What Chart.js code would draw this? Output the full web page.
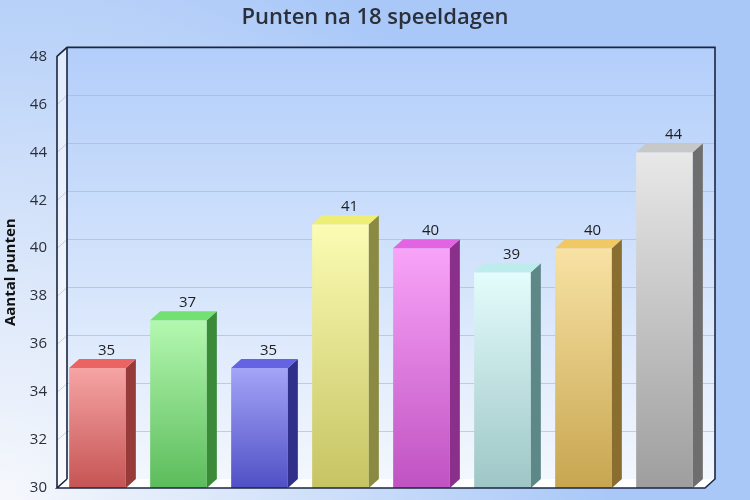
<!DOCTYPE html>
<html>
<head>
<meta charset="utf-8">
<script src="https://cdn.jsdelivr.net/npm/chart.js@4"></script>
<style>
  html, body { margin: 0; padding: 0; }
  body {
    width: 750px; height: 500px; overflow: hidden;
    background: radial-gradient(circle 760px at 0% 100%, #f6f8fc 0%, #dbe7fa 30%, #a9c8f8 80%);
  }
  #wrap { width: 750px; height: 507px; }
</style>
</head>
<body>
<div id="wrap"><canvas id="chart"></canvas></div>
<script>
// chart data
const categories = ['Ploeg 1', 'Ploeg 2', 'Ploeg 3', 'Ploeg 4', 'Ploeg 5', 'Ploeg 6', 'Ploeg 7', 'Ploeg 8'];
const points = [35, 37, 35, 41, 40, 39, 40, 44];
const yTicks = [30, 32, 34, 36, 38, 40, 42, 44, 46, 48];

// front face top/bottom, side and top face colours
const frontTop = ['#f6a4a4', '#b4f8b0', '#a4a4f8', '#fcfcb4', '#f8a4f8', '#e4fcfc', '#f8e2a4', '#e8e8e8'];
const frontBottom = ['#c65454', '#5cbc5c', '#5050c6', '#c6c462', '#c052c2', '#9ec6c6', '#c8a650', '#9e9e9e'];
const sideColors = ['#963a3a', '#3a8a3a', '#30308a', '#8a8a42', '#8a308a', '#5e8888', '#8a6e30', '#6e6e6e'];
const topColors = ['#ea6464', '#72e072', '#6464e2', '#eeee74', '#e264e2', '#bcecec', '#f0c864', '#c8c8c8'];

const DX = 10, DY = 9;

const threeD = {
    id: 'threeD',
    beforeDatasetsDraw(chart) {
        const ctx = chart.ctx;
        const a = chart.chartArea;
        const y = chart.scales.y;
        ctx.save();
        // back wall
        const g = ctx.createLinearGradient(0, a.top - DY, 0, a.bottom - DY);
        g.addColorStop(0, '#b2cefa');
        g.addColorStop(1, '#f3f7fd');
        ctx.fillStyle = g;
        ctx.fillRect(a.left + DX, a.top - DY, a.right - a.left, a.bottom - a.top);
        // left wall
        ctx.fillStyle = 'rgba(255,255,255,0.55)';
        ctx.beginPath();
        ctx.moveTo(a.left, a.top);
        ctx.lineTo(a.left + DX, a.top - DY);
        ctx.lineTo(a.left + DX, a.bottom - DY);
        ctx.lineTo(a.left, a.bottom);
        ctx.closePath();
        ctx.fill();
        // grid lines
        ctx.strokeStyle = 'rgba(170,180,195,0.6)';
        ctx.lineWidth = 1;
        yTicks.forEach(v => {
            if (v === yTicks[0] || v === yTicks[yTicks.length - 1]) return;
            const py = Math.round(y.getPixelForValue(v)) + 0.5;
            ctx.beginPath();
            ctx.moveTo(a.left, py);
            ctx.lineTo(a.left + DX, py - DY);
            ctx.lineTo(a.right + DX, py - DY);
            ctx.stroke();
        });
        // floor
        ctx.fillStyle = '#ffffff';
        ctx.beginPath();
        ctx.moveTo(a.left, a.bottom);
        ctx.lineTo(a.left + DX, a.bottom - DY);
        ctx.lineTo(a.right + DX, a.bottom - DY);
        ctx.lineTo(a.right, a.bottom);
        ctx.closePath();
        ctx.fill();
        ctx.restore();
    },
    afterDatasetsDraw(chart) {
        const ctx = chart.ctx;
        const a = chart.chartArea;
        const meta = chart.getDatasetMeta(0);
        ctx.save();
        meta.data.forEach((bar, i) => {
            const half = bar.width / 2;
            const l = bar.x - half, r = bar.x + half;
            const t = bar.y, b = Math.min(bar.base, a.bottom);
            // side face
            ctx.fillStyle = sideColors[i];
            ctx.beginPath();
            ctx.moveTo(r, t);
            ctx.lineTo(r + DX, t - DY);
            ctx.lineTo(r + DX, b - DY);
            ctx.lineTo(r, b);
            ctx.closePath();
            ctx.fill();
            // top face
            ctx.fillStyle = topColors[i];
            ctx.beginPath();
            ctx.moveTo(l, t);
            ctx.lineTo(l + DX, t - DY);
            ctx.lineTo(r + DX, t - DY);
            ctx.lineTo(r, t);
            ctx.closePath();
            ctx.fill();
            // value label
            ctx.fillStyle = '#1e1e1e';
            ctx.font = '15px "Open Sans"';
            ctx.textAlign = 'center';
            ctx.textBaseline = 'bottom';
            ctx.fillText(String(points[i]), bar.x + DX / 2 + 4, t - DY - 1);
        });
        // frame
        ctx.strokeStyle = '#1c2640';
        ctx.lineWidth = 1.6;
        ctx.beginPath();
        ctx.moveTo(a.left, a.bottom);
        ctx.lineTo(a.left, a.top);
        ctx.lineTo(a.left + DX, a.top - DY);
        ctx.lineTo(a.right + DX, a.top - DY);
        ctx.lineTo(a.right + DX, a.bottom - DY);
        ctx.lineTo(a.right, a.bottom);
        ctx.lineTo(a.left, a.bottom);
        ctx.lineTo(a.left + DX, a.bottom - DY);
        ctx.moveTo(a.left + DX, a.top - DY);
        ctx.lineTo(a.left + DX, a.bottom - DY);
        ctx.stroke();
        ctx.restore();
    }
};

new Chart(document.getElementById('chart'), {
    type: 'bar',
    data: {
        labels: categories,
        datasets: [{
            data: points,
            backgroundColor: (c) => {
                const chart = c.chart;
                if (!chart.chartArea || c.dataIndex === undefined) return frontTop[0];
                const i = c.dataIndex;
                const ys = chart.scales.y;
                const g = chart.ctx.createLinearGradient(0, ys.getPixelForValue(points[i]), 0, ys.getPixelForValue(yTicks[0]));
                g.addColorStop(0, frontTop[i]);
                g.addColorStop(1, frontBottom[i]);
                return g;
            },
            borderWidth: 0,
            barPercentage: 0.7,
            categoryPercentage: 1.0
        }]
    },
    options: {
        responsive: true,
        maintainAspectRatio: false,
        animation: false,
        layout: { padding: 0 },
        plugins: {
            legend: { display: false },
            tooltip: { enabled: false },
            title: {
                display: true,
                text: 'Punten na 18 speeldagen',
                color: '#2a2f3a',
                font: { family: '"Open Sans"', size: 22, weight: '600' },
                padding: { top: 5, bottom: 25 }
            }
        },
        scales: {
            x: {
                grid: { display: false },
                border: { display: false },
                ticks: {
                    color: '#222222',
                    font: { family: '"Open Sans"', size: 14 },
                    minRotation: 45,
                    maxRotation: 45,
                    padding: 2
                },
                afterFit: (s) => { s.height = 7; }
            },
            y: {
                min: 30,
                max: 48,
                grid: { display: false, drawTicks: false },
                border: { display: false },
                afterBuildTicks: (s) => { s.ticks = yTicks.map(v => ({ value: v })); },
                ticks: {
                    color: '#2a2f3a',
                    font: { family: '"Open Sans"', size: 15 },
                    padding: 10
                },
                title: {
                    display: true,
                    text: 'Aantal punten',
                    color: '#111111',
                    font: { family: '"Open Sans"', size: 15, weight: 'bold' },
                    padding: { top: 2, bottom: 0 }
                },
                afterFit: (s) => { s.width = 57; }
            },
            yRight: {
                position: 'right',
                min: 30,
                max: 48,
                grid: { display: false, drawTicks: false },
                border: { display: false },
                ticks: { display: false },
                afterFit: (s) => { s.width = 45; }
            }
        }
    },
    plugins: [threeD]
});
</script>
</body>
</html>
